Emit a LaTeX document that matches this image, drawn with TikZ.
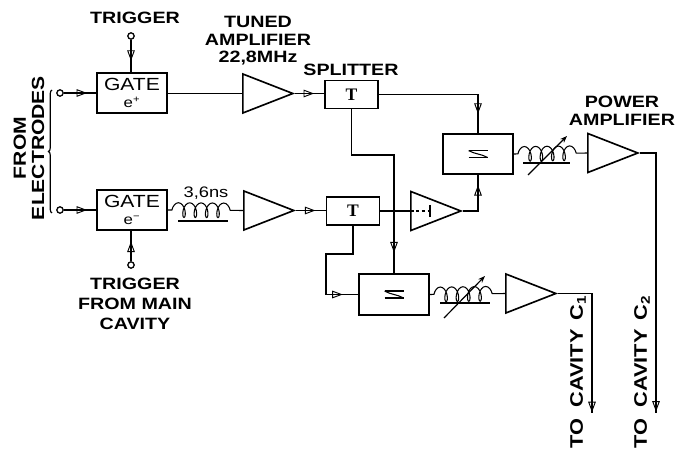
\documentclass[tikz,border=0pt]{standalone}
\usepackage{fontspec}
\setmainfont{Liberation Sans}[FakeStretch=1.2]
\newfontfamily\splitfont{Liberation Serif}
\usetikzlibrary{arrows.meta,decorations.markings,decorations.pathmorphing,decorations.pathreplacing,shapes.geometric}
\tikzset{
  labeltext/.style={font=\fontsize{14}{15}\selectfont\bfseries,align=center},
  blockbox/.style={draw,line width=1.5pt,inner sep=0pt,minimum width=2.1cm,minimum height=1.2cm,align=center},
  splitbox/.style={draw,line width=1.4pt,inner sep=0pt,minimum width=1.58cm,minimum height=0.84cm,font=\splitfont\fontsize{15}{15}\selectfont\bfseries},
  ampbox/.style={draw,line width=1.4pt,isosceles triangle,isosceles triangle stretches,inner sep=0pt,minimum width=1.17cm,minimum height=1.5cm,anchor=lower side},
  terminal/.style={draw,circle,line width=1.1pt,inner sep=0pt,minimum size=0.19cm},
  wire/.style={line width=1pt},
  flow/.style={postaction={decorate},decoration={markings,mark=at position #1 with {\arrow[line width=0.8pt]{Triangle[open,length=9pt,width=6.5pt]}}}},
  coilwire/.style={line width=0.9pt,decorate,decoration={coil,aspect=0.5,segment length=0.34cm,amplitude=0.22cm,pre length=0.12cm,post length=0.12cm}},
}
\begin{document}
\begin{tikzpicture}[x=0.03cm,y=-0.03cm]
\useasboundingbox[fill=white] (0,0) rectangle (688,452);
% input gates
\node[blockbox] (gatep) at (132,93) {\fontsize{15}{17}\selectfont GATE\\[2pt]\fontsize{12}{12}\selectfont e\textsuperscript{+}};
\node[blockbox] (gatem) at (132,210) {\fontsize{15}{17}\selectfont GATE\\[2pt]\fontsize{12}{12}\selectfont e\textsuperscript{−}};
\node[terminal] (trigp) at (131,36) {};
\node[terminal] (trigm) at (131,265) {};
\node[terminal] (inp) at (60,93) {};
\node[terminal] (inm) at (60,210) {};
\draw[wire,flow=0.65] (trigp) -- (trigp |- gatep.north);
\draw[wire,flow=0.65] (trigm) -- (trigm |- gatem.south);
\draw[wire,flow=0.72] (inp) -- (gatep.west);
\draw[wire,flow=0.72] (inm) -- (gatem.west);
\draw[wire,decorate,decoration={brace,amplitude=3pt}] (52,213) -- (52,90);
% amplifiers and splitters
\node[ampbox] (ampa) at (242,93.5) {};
\node[ampbox] (ampb) at (243,210.5) {};
\node[ampbox] (ampc) at (410,211) {};
\node[ampbox] (ampd) at (505,293.5) {};
\node[ampbox] (ampe) at (587,153) {};
\node[splitbox] (splita) at (351.5,94.5) {T};
\node[splitbox] (splitb) at (353,211) {T};
\node[blockbox] (mixa) at (478,154) {};
\node[blockbox,minimum height=1.23cm] (mixb) at (394,294.5) {};
\foreach \m in {mixa,mixb} {
  \draw[line width=1.3pt] ([xshift=-0.28cm,yshift=0.1cm]\m.center) -- ++(19,0);
  \draw[line width=1.3pt] ([xshift=-0.28cm,yshift=-0.1cm]\m.center) -- ++(19,0);
  \draw[line width=0.9pt] ([xshift=-0.28cm,yshift=0.1cm]\m.center) .. controls ([xshift=-0.1cm]\m.center) and ([xshift=0.1cm]\m.center) .. ([xshift=0.28cm,yshift=-0.1cm]\m.center);
}
\draw[wire] (gatep.east |- ampa.lower side) -- (ampa.lower side);
\draw[coilwire] (gatem.east) -- (ampb.lower side);
\draw[wire,flow=0.65] (ampa.apex) -- (ampa.apex -| splita.west);
\draw[wire,flow=0.65] (ampb.apex) -- (ampb.apex -| splitb.west);
\draw[wire,flow=0.86] (splita.east) -| (mixa.north);
\draw[wire,flow=0.9] (splita.south) |- (394,155) -- (mixb.north);
\draw[wire] (splitb.east) -- (ampc.lower side);
\draw[wire,densely dashed] (ampc.lower side) -- (428,211);
\draw[line width=1.3pt] (430,205) -- (430,217);
\draw[wire,flow=0.8] (ampc.apex) -| (mixa.south);
\draw[wire,flow=0.88] (splitb.south) |- (326,254) |- (mixb.west);
% variable delays
\draw[coilwire] (mixa.east) -- (ampe.lower side);
\draw[coilwire] (mixb.east) -- (ampd.lower side);
\draw[line width=1.2pt] (523,163) -- (570,163);
\draw[line width=1.2pt] (440,303) -- (490,303);
\draw[line width=1.2pt] (178,221) -- (228,221);
\draw[wire,-{Stealth[length=6pt]}] (528,175) -- (567,136);
\draw[wire,-{Stealth[length=6pt]}] (444,318) -- (485,276);
% outputs
\coordinate (outa) at (592,413);
\coordinate (outb) at (656,413);
\draw[wire,flow=0.995] (ampd.apex) -| (outa);
\draw[wire,flow=0.995] (ampe.apex) -| (outb);
% labels
\node[labeltext] (trigplabel) at (135,18) {TRIGGER};
\node[labeltext] (tunedlabel) at (258,41) {TUNED\\AMPLIFIER\\22,8MHz};
\node[labeltext] (splitlabel) at (351,70) {SPLITTER};
\node[labeltext] (powerlabel) at (622,111) {POWER\\AMPLIFIER};
\node[labeltext,font=\fontsize{14}{17}\selectfont\bfseries] (trigmlabel) at (135,304) {TRIGGER\\FROM MAIN\\CAVITY};
\node[labeltext,font=\fontsize{15}{15.5}\selectfont\bfseries,rotate=90] (fromlabel) at (29,148) {FROM\\ELECTRODES};
\node[font=\fontsize{13}{14}\selectfont] (delaylabel) at (206,193) {3,6ns};
\node[labeltext,font=\fontsize{15.5}{16}\selectfont\bfseries,rotate=90] (cavalabel) at (578,372) {TO\hspace{0.6em}CAVITY\hspace{0.5em}C\textsubscript{1}};
\node[labeltext,font=\fontsize{15.5}{16}\selectfont\bfseries,rotate=90] (cavblabel) at (642,372) {TO\hspace{0.6em}CAVITY\hspace{0.5em}C\textsubscript{2}};
\end{tikzpicture}
\end{document}
